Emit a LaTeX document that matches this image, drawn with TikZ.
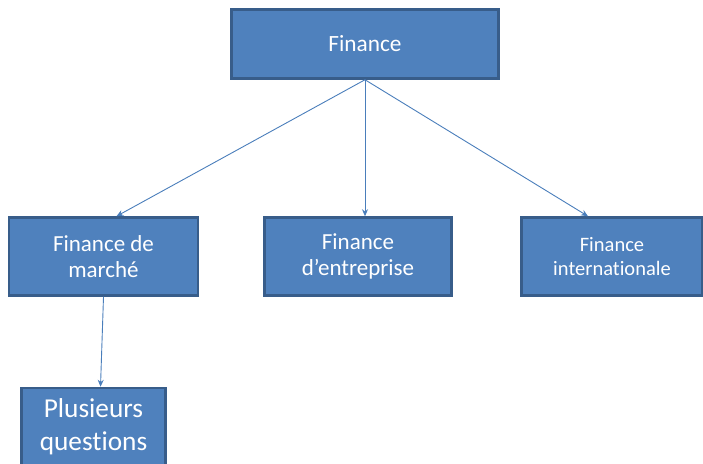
\documentclass[tikz,border=0pt]{standalone}
\usepackage{fontspec}
\setmainfont[Ligatures=NoCommon]{Carlito}
\usetikzlibrary{arrows.meta}
\definecolor{boxfill}{HTML}{4F81BD}
\definecolor{boxline}{HTML}{385D8A}
\definecolor{arrline}{HTML}{4A7EBB}
\tikzset{
    every node/.style={rectangle, fill=boxfill, draw=boxline, line width=2.5pt,
    	text=white, align=center, inner sep=0pt}
}
\tikzset{
    every edge/.append style={draw=arrline, line width=0.9pt,
    	-{Stealth[length=7pt,width=6pt]}}
}
\begin{document}
\begin{tikzpicture}[x=1pt, y=-1pt]
  \clip (0,0) rectangle (703,463);
  \useasboundingbox (0,0) rectangle (703,463);

  \node (fin) [minimum width=267pt, minimum height=69pt,
    font=\fontsize{23.3}{27}\selectfont] at (365, 44) {Finance};

  \node (marche) [minimum width=189pt, minimum height=78pt,
    font=\fontsize{23}{26}\selectfont] at (103.5, 256.5) {Finance de\\march\'e};
  \node (entr) [minimum width=187pt, minimum height=78pt,
    font=\fontsize{23}{26}\selectfont] at (358, 256.5) {Finance\\d’entreprise};
  \node (inter) [minimum width=181pt, minimum height=78pt,
    font=\fontsize{20.5}{24}\selectfont] at (612, 256.5) {Finance\\internationale};

  \node (quest) [minimum width=144pt, minimum height=78pt,
    font=\fontsize{27.3}{33}\selectfont] at (93.5, 427) {Plusieurs\\questions};

  \draw (fin.south) edge ([xshift=13pt]marche.north);
  \draw (fin.south) edge (fin.south |- entr.north);
  \draw (fin.south) edge ([xshift=-24pt]inter.north);
  \draw (marche.south) edge ([xshift=7pt]quest.north);
\end{tikzpicture}
\end{document}
